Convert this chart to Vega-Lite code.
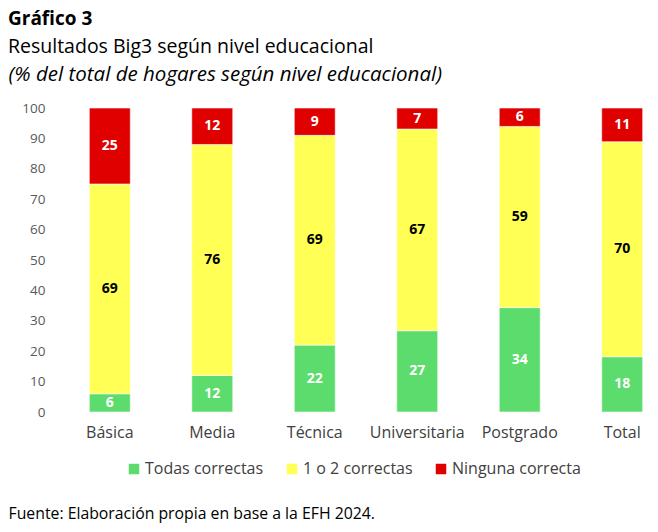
{
  "$schema": "https://vega.github.io/schema/vega-lite/v6.json",
  "autosize": {"type": "none"},
  "padding": {"left": 77, "top": 108, "right": 3, "bottom": 120},
  "width": 578,
  "height": 304,
  "background": "white",
  "config": {
    "view": {"stroke": null},
    "font": "Open Sans",
    "axisY": {
      "values": [0, 0.1, 0.2, 0.3, 0.4, 0.5, 0.6, 0.7, 0.8, 0.9, 1],
      "labelOverlap": false,
      "labelFontSize": 13.5,
      "labelColor": "#595959",
      "labelPadding": 32,
      "domain": false,
      "ticks": false,
      "grid": false
    }
  },
  "title": {
    "text": "Gráfico 3",
    "subtitle": "Resultados Big3 según nivel educacional",
    "anchor": "start",
    "frame": "group",
    "dx": -69,
    "offset": 8,
    "fontSize": 19,
    "fontWeight": "bold",
    "color": "#000000",
    "subtitleFontSize": 19.5,
    "subtitleColor": "#000000",
    "subtitlePadding": 9
  },
  "data": {
    "values": [
      {"nivel": "Básica", "serie": "Todas correctas", "valor": 6},
      {"nivel": "Básica", "serie": "1 o 2 correctas", "valor": 69},
      {"nivel": "Básica", "serie": "Ninguna correcta", "valor": 25},
      {"nivel": "Media", "serie": "Todas correctas", "valor": 12},
      {"nivel": "Media", "serie": "1 o 2 correctas", "valor": 76},
      {"nivel": "Media", "serie": "Ninguna correcta", "valor": 12},
      {"nivel": "Técnica", "serie": "Todas correctas", "valor": 22},
      {"nivel": "Técnica", "serie": "1 o 2 correctas", "valor": 69},
      {"nivel": "Técnica", "serie": "Ninguna correcta", "valor": 9},
      {"nivel": "Universitaria", "serie": "Todas correctas", "valor": 27},
      {"nivel": "Universitaria", "serie": "1 o 2 correctas", "valor": 67},
      {"nivel": "Universitaria", "serie": "Ninguna correcta", "valor": 7},
      {"nivel": "Postgrado", "serie": "Todas correctas", "valor": 34},
      {"nivel": "Postgrado", "serie": "1 o 2 correctas", "valor": 59},
      {"nivel": "Postgrado", "serie": "Ninguna correcta", "valor": 6},
      {"nivel": "Total", "serie": "Todas correctas", "valor": 18},
      {"nivel": "Total", "serie": "1 o 2 correctas", "valor": 70},
      {"nivel": "Total", "serie": "Ninguna correcta", "valor": 11}
    ]
  },
  "transform": [
    {"calculate": "indexof(['Todas correctas','1 o 2 correctas','Ninguna correcta'], datum.serie)", "as": "k"},
    {"stack": "valor", "groupby": ["nivel"], "sort": [{"field": "k", "order": "ascending"}], "offset": "normalize", "as": ["y0", "y1"]},
    {"calculate": "(datum.y0 + datum.y1) / 2", "as": "ym"}
  ],
  "encoding": {
    "x": {
      "field": "nivel",
      "type": "nominal",
      "sort": ["Básica", "Media", "Técnica", "Universitaria", "Postgrado", "Total"],
      "scale": {"paddingInner": 0.6, "paddingOuter": 0.12},
      "axis": {
        "labelAngle": 0,
        "labelFontSize": 16,
        "labelColor": "#404040",
        "labelPadding": 12,
        "domain": false,
        "ticks": false,
        "title": "Fuente: Elaboración propia en base a la EFH 2024.",
        "titleX": -69,
        "titleY": 101,
        "titleAlign": "left",
        "titleBaseline": "middle",
        "titleFontSize": 15.8,
        "titleFontWeight": "normal",
        "titleColor": "#000000"
      }
    }
  },
  "layer": [
    {
      "mark": {"type": "bar", "stroke": "white", "strokeWidth": 1, "strokeOpacity": 0.6},
      "encoding": {
        "y": {
          "field": "y0",
          "type": "quantitative",
          "scale": {"domain": [0, 1]},
          "axis": {
            "values": [0, 0.1, 0.2, 0.3, 0.4, 0.5, 0.6, 0.7, 0.8, 0.9, 1],
            "labelExpr": "round(datum.value * 100)",
            "title": "(% del total de hogares según nivel educacional)",
            "titleAngle": 0,
            "titleX": -69,
            "titleY": -34,
            "titleAlign": "left",
            "titleBaseline": "middle",
            "titleFontSize": 20.5,
            "titleFontWeight": "normal",
            "titleFontStyle": "italic",
            "titleColor": "#000000"
          }
        },
        "y2": {"field": "y1"},
        "color": {
          "field": "serie",
          "type": "nominal",
          "sort": ["Todas correctas", "1 o 2 correctas", "Ninguna correcta"],
          "scale": {
            "domain": ["Todas correctas", "1 o 2 correctas", "Ninguna correcta"],
            "range": ["#5cdc6c", "#ffff55", "#e00000"]
          },
          "legend": {
            "title": null,
            "orient": "none",
            "direction": "horizontal",
            "legendX": 49,
            "legendY": 353,
            "symbolType": "square",
            "symbolSize": 110,
            "symbolStrokeWidth": 0,
            "symbolOpacity": 1,
            "labelFontSize": 16,
            "labelColor": "#404040",
            "labelOffset": 3,
            "columnPadding": 20
          }
        }
      }
    },
    {
      "mark": {"type": "text", "fontWeight": "bold", "fontSize": 14, "baseline": "middle"},
      "encoding": {
        "y": {
          "field": "ym",
          "type": "quantitative",
          "axis": {
            "values": [0, 0.1, 0.2, 0.3, 0.4, 0.5, 0.6, 0.7, 0.8, 0.9, 1],
            "labelExpr": "round(datum.value * 100)",
            "title": "(% del total de hogares según nivel educacional)",
            "titleAngle": 0,
            "titleX": -69,
            "titleY": -34,
            "titleAlign": "left",
            "titleBaseline": "middle",
            "titleFontSize": 20.5,
            "titleFontWeight": "normal",
            "titleFontStyle": "italic",
            "titleColor": "#000000"
          }
        },
        "text": {"field": "valor", "type": "quantitative"},
        "color": {
          "condition": {"test": "datum.serie === '1 o 2 correctas'", "value": "#000000"},
          "value": "#ffffff"
        }
      }
    }
  ]
}
